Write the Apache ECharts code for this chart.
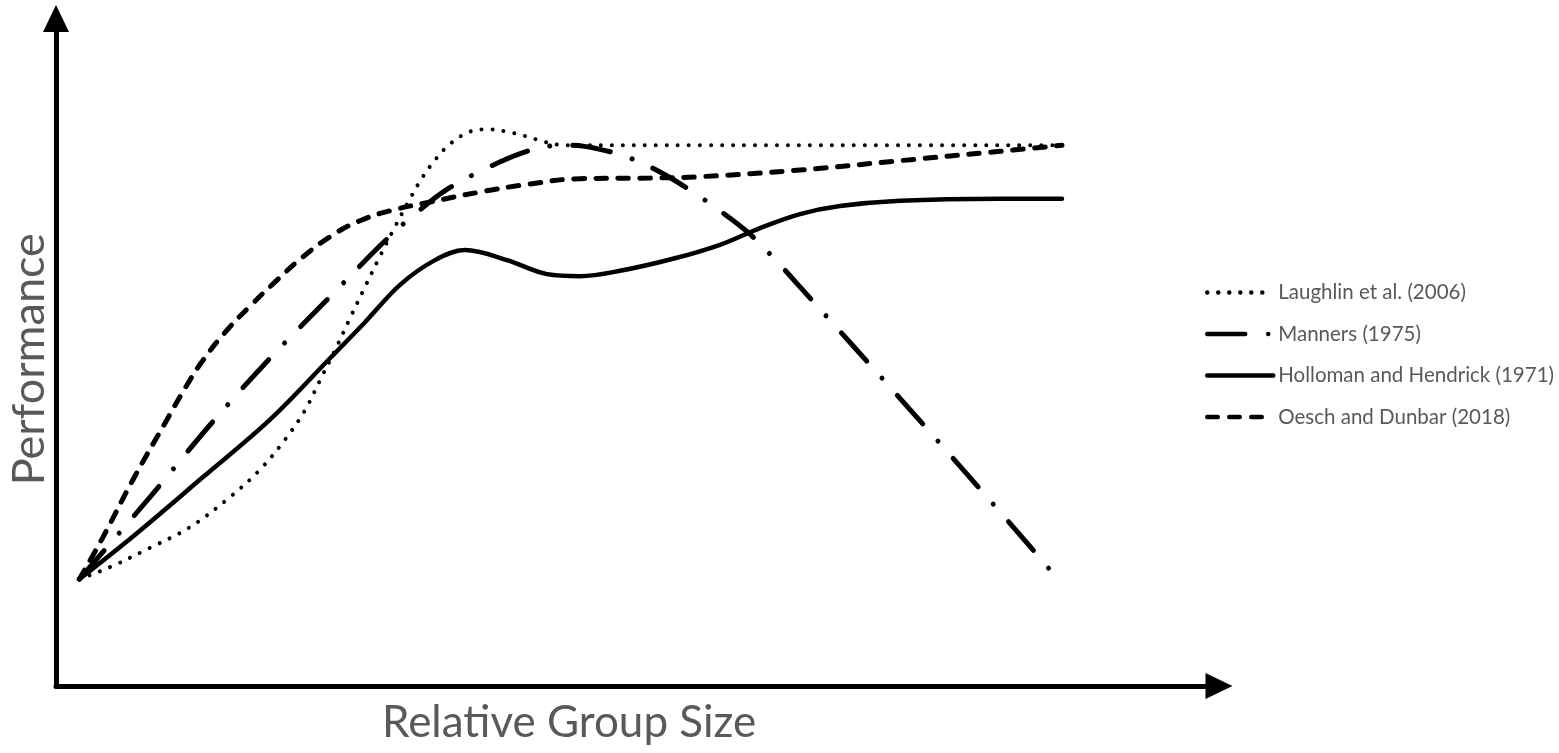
<!DOCTYPE html>
<html>
<head>
<meta charset="utf-8">
<script src="https://cdn.jsdelivr.net/npm/echarts@6/dist/echarts.min.js"></script>
<style>
html,body{margin:0;padding:0;background:#fff;}
#chart{width:1559px;height:753px;}
</style>
</head>
<body>
<div id="chart"></div>
<script>
// Series names (legend order)
const seriesNames = ['Laughlin et al. (2006)', 'Manners (1975)', 'Holloman and Hendrick (1971)', 'Oesch and Dunbar (2018)'];

// Values: [relative group size, performance] (arbitrary units 0-100)
const laughlin = [
  [2.0,16.0],[4.64,17.8],[8.08,20.7],[11.52,23.8],[14.96,28.3],[17.54,32.4],[19.69,36.9],[21.41,41.3],
  [22.7,45.8],[23.99,50.3],[25.28,55.1],[26.57,59.8],[27.86,64.4],[29.15,68.8],[30.44,73.0],[31.47,76.1],
  [32.59,78.8],[33.88,81.2],[35.51,83.0],[37.06,83.4],[38.61,83.1],[40.33,82.4],[42.05,81.5],[43.77,81.0],
  [55.37,81.0],[70.0,81.0],[86.5,81.0]
];
const manners = [
  [2.0,16.0],[8.08,28.3],[13.24,39.1],[18.4,49.1],[23.56,58.3],[28.12,66.4],[30.87,70.7],[33.71,74.5],
  [37.06,77.6],[40.15,79.9],[42.48,80.9],[44.2,81.0],[46.78,80.4],[49.36,79.1],[51.94,77.0],[54.51,74.3],
  [57.09,71.2],[59.67,67.7],[62.25,63.1],[63.97,59.8],[72.57,43.1],[81.17,26.1],[86.16,16.0]
];
const holloman = [
  [2.0,16.0],[6.96,22.9],[12.64,31.3],[18.4,39.9],[23.56,49.1],[26.57,54.5],[29.58,60.1],[32.59,63.8],
  [35.17,65.3],[38.78,63.8],[42.22,61.7],[45.06,61.4],[48.5,62.2],[53.05,64.0],[57.09,66.1],[60.53,68.6],
  [63.97,70.7],[67.41,71.9],[72.57,72.7],[81.17,73.0],[86.5,73.0]
];
const oesch = [
  [2.0,16.0],[4.04,22.3],[6.62,30.9],[9.54,39.9],[11.09,44.6],[12.64,48.8],[14.7,53.3],[16.68,56.9],
  [19.0,60.8],[21.24,64.3],[23.82,67.6],[26.14,69.7],[28.72,71.2],[32.16,72.5],[36.46,74.0],[40.76,75.2],
  [45.06,76.0],[51.07,76.1],[55.37,76.3],[63.97,77.3],[72.57,78.7],[81.17,80.1],[86.5,81.0]
];

const axisTitleX = 'Relative Group Size';
const axisTitleY = 'Performance';

const chart = echarts.init(document.getElementById('chart'), null, {renderer: 'canvas'});
const textGray = '#595959';
const font = 'Lato, "Open Sans", sans-serif';

const option = {
  animation: false,
  backgroundColor: '#ffffff',
  title: [{
    text: axisTitleX,
    left: 382, top: 701, padding: 0,
    textStyle: {fontFamily: font, fontSize: 44, fontWeight: 'normal', color: textGray}
  }],
  legend: {
    orient: 'vertical',
    left: 1205, top: 282, padding: 0,
    itemWidth: 66, itemHeight: 20, itemGap: 20.5,
    data: seriesNames,
    lineStyle: {width: 4.5},
    itemStyle: {opacity: 0},
    textStyle: {fontFamily: font, fontSize: 20.5, color: textGray, lineHeight: 20}
  },
  grid: {left: 56, right: 340, top: 18.5, bottom: 67, containLabel: false, outerBoundsMode: 'none'},
  xAxis: {
    type: 'value', min: 0, max: 100,
    axisLine: {show: true, lineStyle: {color: '#000', width: 5}, symbol: ['none', 'triangle'], symbolSize: [26, 27]},
    axisTick: {show: false}, axisLabel: {show: false}, splitLine: {show: false}
  },
  yAxis: {
    type: 'value', min: 0, max: 100,
    name: axisTitleY, nameLocation: 'middle', nameGap: 4,
    nameTextStyle: {fontFamily: font, fontSize: 45, color: textGray, padding: [0, 14, 0, 0]},
    axisLine: {show: true, lineStyle: {color: '#000', width: 5}, symbol: ['none', 'triangle'], symbolSize: [26, 27]},
    axisTick: {show: false}, axisLabel: {show: false}, splitLine: {show: false}
  },
  series: [
    {
      name: seriesNames[0], type: 'line', data: laughlin, smooth: 0.35, symbol: 'none',
      lineStyle: {color: '#000', width: 4, type: [0.01, 11], cap: 'round'},
      itemStyle: {color: '#000'}, z: 3
    },
    {
      name: seriesNames[1], type: 'line', data: manners, smooth: 0.35, symbol: 'none',
      lineStyle: {color: '#000', width: 5, type: [38, 23, 0.01, 23], cap: 'round'},
      itemStyle: {color: '#000'}, z: 3
    },
    {
      name: seriesNames[2], type: 'line', data: holloman, smooth: 0.35, symbol: 'none',
      lineStyle: {color: '#000', width: 4.5, type: 'solid', cap: 'round'},
      itemStyle: {color: '#000'}, z: 3
    },
    {
      name: seriesNames[3], type: 'line', data: oesch, smooth: 0.45, symbol: 'none',
      lineStyle: {color: '#000', width: 5, type: [10.5, 11.5], cap: 'round'},
      itemStyle: {color: '#000'}, z: 3
    }
  ]
};
chart.setOption(option);
</script>
</body>
</html>
